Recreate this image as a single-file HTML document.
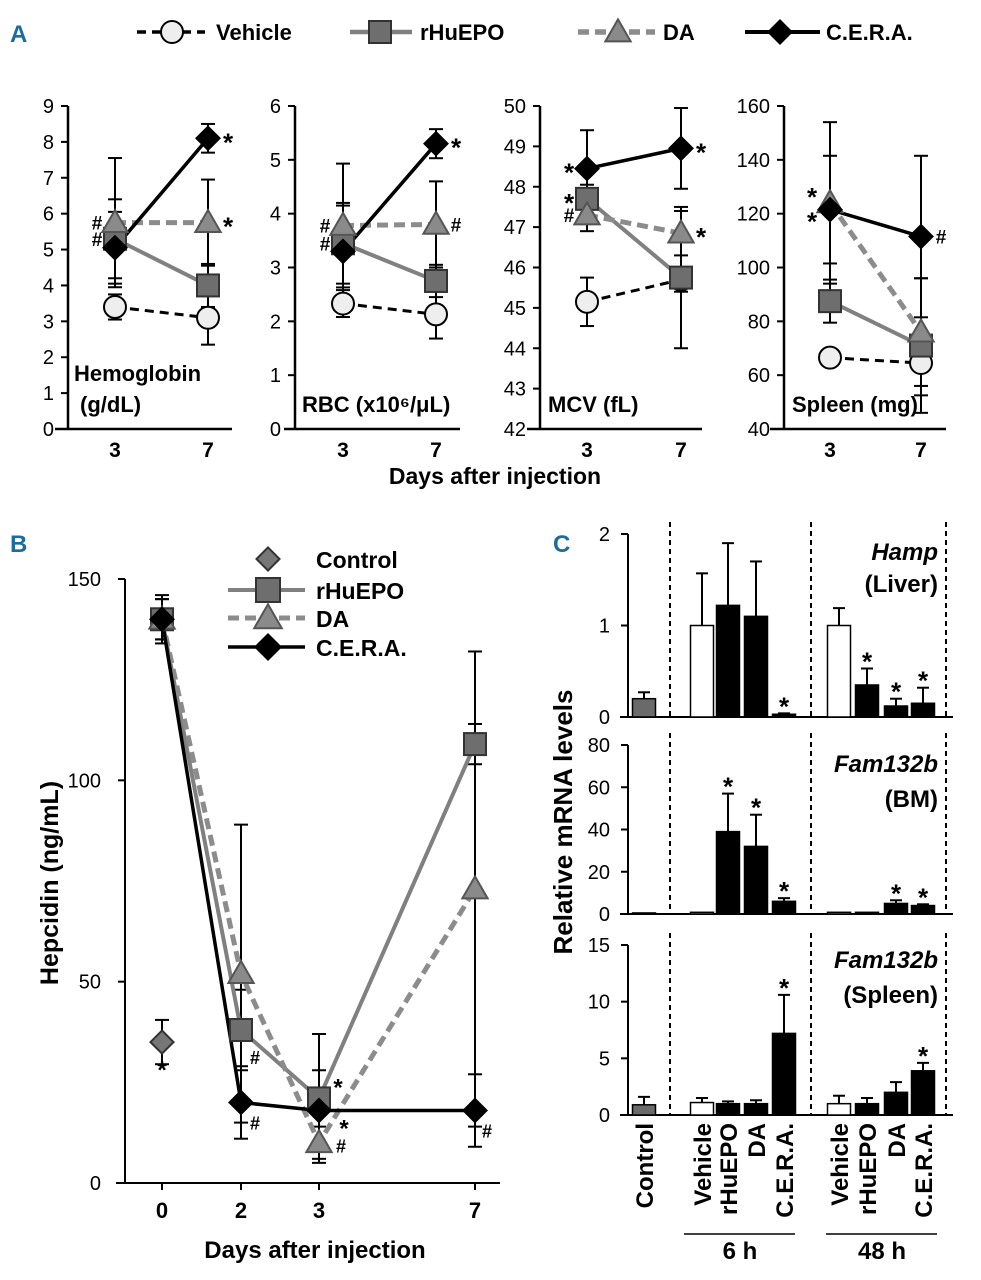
<!DOCTYPE html>
<html><head><meta charset="utf-8"><style>
html,body{margin:0;padding:0;background:#fff}
svg{display:block;font-family:"Liberation Sans",Arial,sans-serif}
</style></head><body>
<svg id="fig" width="981" height="1280" viewBox="0 0 981 1280" xmlns="http://www.w3.org/2000/svg">
<g id="static">
<text x="10" y="42" font-size="24" font-weight="bold" fill="#1b6d9c">A</text>
<text x="10" y="552" font-size="24" font-weight="bold" fill="#1b6d9c">B</text>
<text x="553" y="552" font-size="24" font-weight="bold" fill="#1b6d9c">C</text>
<text x="495" y="484" font-size="23" font-weight="bold" text-anchor="middle">Days after injection</text>
<text x="315" y="1258" font-size="24" font-weight="bold" text-anchor="middle">Days after injection</text>
<text transform="translate(58,883) rotate(-90)" font-size="25" font-weight="bold" text-anchor="middle">Hepcidin (ng/mL)</text>
<text transform="translate(572,822) rotate(-90)" font-size="26" font-weight="bold" text-anchor="middle">Relative mRNA levels</text>
</g>
</svg>
<script>
// ---------- Panel A data ----------
const aDays = ["3", "7"];
const aSeries = ["Vehicle", "rHuEPO", "DA", "C.E.R.A."];
const hbVals = [[3.4, 3.1], [5.3, 4.0], [5.75, 5.75], [5.05, 8.1]];
const hbErr = [[0.35, 0.75], [1.1, 0.6], [1.8, 1.2], [1.0, 0.4]];
const rbcVals = [[2.33, 2.13], [3.45, 2.75], [3.78, 3.8], [3.3, 5.3]];
const rbcErr = [[0.25, 0.45], [0.75, 0.3], [1.15, 0.8], [0.85, 0.27]];
const mcvVals = [[45.15, 45.7], [47.7, 45.75], [47.3, 46.85], [48.45, 48.95]];
const mcvErr = [[0.6, 0.3], [0.35, 1.75], [0.4, 0.55], [0.95, 1.0]];
const splVals = [[66.5, 64.5], [87.5, 71], [124, 76], [121.5, 111.5]];
const splErr = [[3, 12], [8, 25], [30, 20], [20, 30]];
const hbTicks = [0,1,2,3,4,5,6,7,8,9];
const rbcTicks = [0,1,2,3,4,5,6];
const mcvTicks = [42,43,44,45,46,47,48,49,50];
const splTicks = [40,60,80,100,120,140,160];
// annotations: [series, point, text, side, extra dy]
const hbNotes = [[1,0,"#","L",0],[2,0,"#","L",0],[2,1,"*","R",0],[3,1,"*","R",0]];
const rbcNotes = [[1,0,"#","L",0],[2,0,"#","L",0],[2,1,"#","R",0],[3,1,"*","R",0]];
const mcvNotes = [[3,0,"*","L",0],[1,0,"*","L",0],[2,0,"#","L",0],[3,1,"*","R",0],[2,1,"*","R",0]];
const splNotes = [[2,0,"*","L",-10],[3,0,"*","L",8],[3,1,"#","R",0]];

// ---------- Panel B data ----------
const bDays = [0, 2, 3, 7];
const bTickLabels = ["0", "2", "3", "7"];
const bYTicks = [0, 50, 100, 150];
const ctrlVal = 35, ctrlErr = 5.5;
const epoB = [140, 38, 21, 109];
const epoBErr = [5, 10, 16, 5];
const daB = [140, 52, 10, 73];
const daBErr = [5, 37, 4, 59];
const ceraB = [140, 20, 18, 18];
const ceraBErr = [6, 9, 10, 9];

// ---------- Panel C data ----------
const cGroups = ["Control","Vehicle","rHuEPO","DA","C.E.R.A.","Vehicle","rHuEPO","DA","C.E.R.A."];
const hampVals = [0.2, 1.0, 1.22, 1.1, 0.03, 1.0, 0.35, 0.12, 0.15];
const hampErr = [0.07, 0.57, 0.68, 0.6, 0.01, 0.19, 0.18, 0.08, 0.17];
const bmVals = [0.5, 0.8, 39, 32, 6, 0.8, 0.8, 5, 4];
const bmErr = [0, 0, 18, 15, 1.5, 0, 0, 1.5, 0.6];
const spVals = [0.9, 1.1, 1.0, 1.0, 7.2, 1.0, 1.0, 2.0, 3.9];
const spErr = [0.7, 0.4, 0.2, 0.3, 3.4, 0.7, 0.5, 0.9, 0.7];
const hampStars = [4, 6, 7, 8];
const bmStars = [2, 3, 4, 7, 8];
const spStars = [4, 8];
const hampTicks = [0, 1, 2];
const bmTicks = [0, 20, 40, 60, 80];
const spTicks = [0, 5, 10, 15];

const NS = "http://www.w3.org/2000/svg";
const svg = document.getElementById("fig");
function mk(tag, attrs, parent, txt) {
  const e = document.createElementNS(NS, tag);
  for (const k in attrs) e.setAttribute(k, attrs[k]);
  if (txt !== undefined) e.textContent = txt;
  (parent || svg).appendChild(e);
  return e;
}
const styles = [
  {stroke:"#000", w:3, dash:"9,6", shape:"circle", fill:"#eee", ms:"#000"},
  {stroke:"#808080", w:4, dash:"", shape:"square", fill:"#6e6e6e", ms:"#333"},
  {stroke:"#8c8c8c", w:5, dash:"11,6", shape:"triangle", fill:"#8a8a8a", ms:"#555"},
  {stroke:"#000", w:3.5, dash:"", shape:"diamond", fill:"#000", ms:"#000"}
];
function marker(g, shape, x, y, s, fill, st) {
  let e;
  if (shape === "circle") e = mk("circle", {cx:x, cy:y, r:s}, g);
  else if (shape === "square") e = mk("rect", {x:x-s, y:y-s, width:2*s, height:2*s}, g);
  else if (shape === "triangle") e = mk("polygon", {points:`${x},${y-s*1.15} ${x+s*1.15},${y+s*0.85} ${x-s*1.15},${y+s*0.85}`}, g);
  else e = mk("polygon", {points:`${x},${y-s*1.05} ${x+s*1.05},${y} ${x},${y+s*1.05} ${x-s*1.05},${y}`}, g);
  e.setAttribute("fill", fill); e.setAttribute("stroke", st); e.setAttribute("stroke-width", 2);
  return e;
}

// ---------- Legend A ----------
const legA = [[137,205,172,216],[350,412,380,420],[578,655,618,663],[745,820,780,826]];
aSeries.forEach((nm, i) => {
  const g = mk("g", {});
  
  
  const s = styles[i], L = legA[i];
  mk("line", {x1:L[0], x2:L[1], y1:32, y2:32, stroke:s.stroke, "stroke-width":s.w+0.5, "stroke-dasharray":s.dash}, g);
  marker(g, s.shape, L[2], 32, 11, s.fill, s.ms);
  mk("text", {x:L[3], y:40, "font-size":22, "font-weight":"bold"}, g, nm);
});

// ---------- Panel A subplots ----------
const subs = [
  {ax:68, x3:115, x7:208, xl:55, xr:232, lo:0, hi:9, ticks:hbTicks, vals:hbVals, err:hbErr, notes:hbNotes, name:"hemoglobin", lab:[["Hemoglobin",74,381],["(g/dL)",80,412]]},
  {ax:295, x3:343, x7:436, xl:284, xr:460, lo:0, hi:6, ticks:rbcTicks, vals:rbcVals, err:rbcErr, notes:rbcNotes, name:"rbc", lab:[["RBC (x10⁶/μL)",302,412]]},
  {ax:540, x3:587, x7:681, xl:527, xr:702, lo:42, hi:50, ticks:mcvTicks, vals:mcvVals, err:mcvErr, notes:mcvNotes, name:"mcv", lab:[["MCV (fL)",548,412]]},
  {ax:784, x3:830, x7:921, xl:770, xr:946, lo:40, hi:160, ticks:splTicks, vals:splVals, err:splErr, notes:splNotes, name:"spleen", lab:[["Spleen (mg)",792,412]]}
];
subs.forEach(p => {
  const g = mk("g", {});
  
  
  const Y = v => 429 - (v - p.lo) / (p.hi - p.lo) * 323;
  const X = i => i === 0 ? p.x3 : p.x7;
  mk("line", {x1:p.ax, x2:p.ax, y1:106, y2:429, stroke:"#000", "stroke-width":2.5}, g);
  mk("line", {x1:p.xl, x2:p.xr, y1:429, y2:429, stroke:"#000", "stroke-width":2.5}, g);
  p.ticks.forEach(t => {
    mk("line", {x1:p.ax-7, x2:p.ax, y1:Y(t), y2:Y(t), stroke:"#000", "stroke-width":2}, g);
    mk("text", {x:p.ax-14, y:Y(t)+7, "font-size":20, "text-anchor":"end"}, g, String(t));
  });
  aDays.forEach((d, i) => mk("text", {x:X(i), y:457, "font-size":21, "font-weight":"bold", "text-anchor":"middle"}, g, d));
  p.lab.forEach(l => mk("text", {x:l[1], y:l[2], "font-size":22, "font-weight":"bold"}, g, l[0]));
  p.vals.forEach((vs, si) => vs.forEach((v, i) => {
    const e = p.err[si][i];
    mk("line", {x1:X(i), x2:X(i), y1:Y(v+e), y2:Y(v-e), stroke:"#000", "stroke-width":2}, g);
    [v+e, v-e].forEach(w => mk("line", {x1:X(i)-7, x2:X(i)+7, y1:Y(w), y2:Y(w), stroke:"#000", "stroke-width":2}, g));
  }));
  p.vals.forEach((vs, si) => {
    const s = styles[si];
    const ln = mk("line", {x1:X(0), x2:X(1), y1:Y(vs[0]), y2:Y(vs[1]), stroke:s.stroke, "stroke-width":s.w, "stroke-dasharray":s.dash}, g);
    
  });
  p.vals.forEach((vs, si) => vs.forEach((v, i) => {
    const m = marker(g, styles[si].shape, X(i), Y(v), 11, styles[si].fill, styles[si].ms);
    
    
  }));
  p.notes.forEach(n => {
    const v = p.vals[n[0]][n[1]];
    const x = X(n[1]) + (n[3] === "L" ? -18 : 20);
    mk("text", {x:x, y:Y(v)+(n[2]==="*"?13:7)+n[4], "font-size":n[2]==="*"?26:19, "font-weight":"bold", "text-anchor":"middle"}, g, n[2]);
  });
});

// ---------- Panel B ----------
(function(){
  const g = mk("g", {});
  
  
  const Y = v => 1183 - v / 150 * 604;
  const xpos = {0:162, 2:241, 3:319, 7:475};
  const X = d => xpos[d];
  mk("line", {x1:125, x2:125, y1:579, y2:1183, stroke:"#000", "stroke-width":2}, g);
  mk("line", {x1:116, x2:500, y1:1183, y2:1183, stroke:"#000", "stroke-width":2}, g);
  bYTicks.forEach(t => {
    mk("line", {x1:118, x2:125, y1:Y(t), y2:Y(t), stroke:"#000", "stroke-width":2}, g);
    mk("text", {x:101, y:Y(t)+7, "font-size":20, "text-anchor":"end"}, g, String(t));
  });
  bDays.forEach((d, i) => {
    mk("line", {x1:X(d), x2:X(d), y1:1183, y2:1190, stroke:"#000", "stroke-width":2}, g);
    mk("text", {x:X(d), y:1218, "font-size":22, "font-weight":"bold", "text-anchor":"middle"}, g, bTickLabels[i]);
  });
  const ser = [[epoB, epoBErr, 1], [daB, daBErr, 2], [ceraB, ceraBErr, 3]];
  const errBar = (x, v, e) => {
    mk("line", {x1:x, x2:x, y1:Y(v+e), y2:Y(Math.max(0,v-e)), stroke:"#000", "stroke-width":2}, g);
    [v+e, Math.max(0,v-e)].forEach(w => mk("line", {x1:x-7, x2:x+7, y1:Y(w), y2:Y(w), stroke:"#000", "stroke-width":2}, g));
  };
  ser.forEach(s => s[0].forEach((v, i) => errBar(X(bDays[i]), v, s[1][i])));
  errBar(X(0), ctrlVal, ctrlErr);
  ser.forEach(s => {
    const st = styles[s[2]];
    const pts = s[0].map((v, i) => X(bDays[i]) + "," + Y(v)).join(" ");
    const pl = mk("polyline", {points:pts, fill:"none", stroke:st.stroke, "stroke-width":st.w, "stroke-dasharray":st.dash}, g);
    
  });
  ser.forEach(s => s[0].forEach((v, i) => {
    const st = styles[s[2]];
    const m = marker(g, st.shape, X(bDays[i]), Y(v), 11, st.fill, st.ms);
    
  }));
  const cm = marker(g, "diamond", X(0), Y(ctrlVal), 11, "#777", "#333");
  
  const notes = [[X(0), Y(ctrlVal)+36, "*"], [X(2)+14, Y(epoB[1])+34, "#"], [X(2)+14, Y(ceraB[1])+27, "#"],
                 [X(3)+19, Y(epoB[2])-3, "*"], [X(3)+25, Y(ceraB[2])+26, "*"], [X(3)+22, Y(daB[2])+10, "#"], [X(7)+12, Y(ceraB[3])+27, "#"]];
  notes.forEach(n => mk("text", {x:n[0], y:n[1], "font-size":n[2]==="*"?24:18, "font-weight":"bold", "text-anchor":"middle"}, g, n[2]));
  // legend
  const lg = mk("g", {});
  
  
  marker(lg, "diamond", 268, 559, 11, "#777", "#333");
  mk("text", {x:316, y:568, "font-size":23, "font-weight":"bold"}, lg, "Control");
  const rows = [[1, 590, "rHuEPO"], [2, 618, "DA"], [3, 647, "C.E.R.A."]];
  rows.forEach(r => {
    const st = styles[r[0]];
    mk("line", {x1:228, x2:305, y1:r[1], y2:r[1], stroke:st.stroke, "stroke-width":st.w, "stroke-dasharray":st.dash}, lg);
    marker(lg, st.shape, 268, r[1], 12, st.fill, st.ms);
    mk("text", {x:316, y:r[1]+9, "font-size":23, "font-weight":"bold"}, lg, r[2]);
  });
})();

// ---------- Panel C ----------
(function(){
  const barX = [644, 702, 728, 756, 784, 839, 867, 896, 923];
  const barFill = ["#6a6a6a", "#fff", "#000", "#000", "#000", "#fff", "#000", "#000", "#000"];
  const panels = [
    {top:534, bot:717, max:2, vals:hampVals, err:hampErr, stars:hampStars, ticks:hampTicks, name:"hamp-liver", t1:"Hamp", t2:"(Liver)", ty:[560,592]},
    {top:745, bot:914, max:80, vals:bmVals, err:bmErr, stars:bmStars, ticks:bmTicks, name:"fam132b-bm", t1:"Fam132b", t2:"(BM)", ty:[772,807]},
    {top:945, bot:1115, max:15, vals:spVals, err:spErr, stars:spStars, ticks:spTicks, name:"fam132b-spleen", t1:"Fam132b", t2:"(Spleen)", ty:[968,1003]}
  ];
  panels.forEach(p => {
    const g = mk("g", {});
    
    
    const Y = v => p.bot - v / p.max * (p.bot - p.top);
    mk("line", {x1:628, x2:628, y1:p.top, y2:p.bot, stroke:"#000", "stroke-width":2}, g);
    mk("line", {x1:620, x2:953, y1:p.bot, y2:p.bot, stroke:"#000", "stroke-width":2}, g);
    [670, 811, 946].forEach(x => mk("line", {x1:x, x2:x, y1:p.top-12, y2:p.bot, stroke:"#000", "stroke-width":2, "stroke-dasharray":"5,4"}, g));
    p.ticks.forEach(t => {
      mk("line", {x1:621, x2:628, y1:Y(t), y2:Y(t), stroke:"#000", "stroke-width":2}, g);
      mk("text", {x:610, y:Y(t)+7, "font-size":20, "text-anchor":"end"}, g, String(t));
    });
    p.vals.forEach((v, i) => {
      const x = barX[i], e = p.err[i];
      if (e > 0) {
        mk("line", {x1:x, x2:x, y1:Y(v+e), y2:Y(v), stroke:"#000", "stroke-width":2}, g);
        mk("line", {x1:x-6, x2:x+6, y1:Y(v+e), y2:Y(v+e), stroke:"#000", "stroke-width":2}, g);
      }
      const r = mk("rect", {x:x-11.5, y:Y(v), width:23, height:Math.max(1, p.bot - Y(v)), fill:barFill[i], stroke:"#000", "stroke-width":1.5}, g);
      
      
    });
    p.stars.forEach(i => mk("text", {x:barX[i], y:Y(p.vals[i]+p.err[i]) + 2, "font-size":26, "font-weight":"bold", "text-anchor":"middle"}, g, "*"));
    mk("text", {x:938, y:p.ty[0], "font-size":24, "font-weight":"bold", "font-style":"italic", "text-anchor":"end"}, g, p.t1);
    mk("text", {x:938, y:p.ty[1], "font-size":24, "font-weight":"bold", "text-anchor":"end"}, g, p.t2);
  });
  const lg = mk("g", {});
  
  
  cGroups.forEach((c, i) => {
    mk("text", {transform:`translate(${barX[i]+9},1123) rotate(-90)`, "font-size":24, "font-weight":"bold", "text-anchor":"end"}, lg, c);
  });
  mk("line", {x1:684, x2:795, y1:1234, y2:1234, stroke:"#000", "stroke-width":1.5}, lg);
  mk("line", {x1:826, x2:937, y1:1234, y2:1234, stroke:"#000", "stroke-width":1.5}, lg);
  mk("text", {x:740, y:1259, "font-size":24, "font-weight":"bold", "text-anchor":"middle"}, lg, "6 h");
  mk("text", {x:882, y:1259, "font-size":24, "font-weight":"bold", "text-anchor":"middle"}, lg, "48 h");
})();
</script>
</body></html>
